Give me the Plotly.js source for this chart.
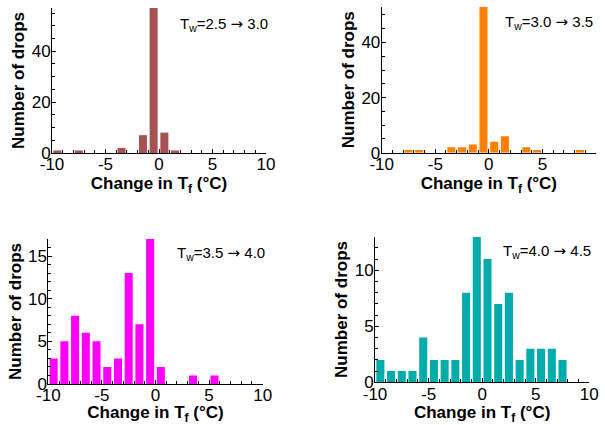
<!DOCTYPE html>
<html><head><meta charset="utf-8">
<script src="https://cdn.plot.ly/plotly-3.0.1.min.js"></script>
<style>html,body{margin:0;padding:0;background:#fff}#chart{width:605px;height:425px}</style>
</head><body><div id="chart"></div>
<script>
// Bin centers (°C change in Tf)
const binCenters = [-9.5,-8.5,-7.5,-6.5,-5.5,-4.5,-3.5,-2.5,-1.5,-0.5,0.5,1.5,2.5,3.5,4.5,5.5,6.5,7.5,8.5,9.5];
// Counts per panel
const counts25to30 = [1,0,1,0,0,0,2,0,7,57,8,1,0,0,0,0,0,0,0,0];
const counts30to35 = [0,0,1,1,0,0,2,2,3,53,4,6,0,2,1,0,0,0,1,0];
const counts35to40 = [3,5,8,6,5,2,3,13,7,17,2,0,0,1,0,1,0,0,0,0];
const counts40to45 = [2,1,1,1,4,2,2,2,8,13,11,7,8,2,3,3,3,2,0,0];
const arrow = '<span style="font-family:\'DejaVu Sans\'">\u2192</span>';
const panelLabels = ['T<sub>w</sub>=2.5 '+arrow+' 3.0','T<sub>w</sub>=3.0 '+arrow+' 3.5','T<sub>w</sub>=3.5 '+arrow+' 4.0','T<sub>w</sub>=4.0 '+arrow+' 4.5'];
const xTickVals = [-10,-5,0,5,10];
const xTickText = ['-10','-5','0','5','10'];

const series = [counts25to30, counts30to35, counts35to40, counts40to45];
const colors = ['#A65252','#FF8000','#FF00FF','#00ABAB'];
const yRanges = [[0,57],[0,53],[0,17],[0,13]];
const yMajor = [20,20,5,5];
const yMinor = [5,5,1,1];
const W=605,H=425;
const boxes = [ // px: x0,x1,ytop,ybottom
  [52,266,8,153],[381.7,596,6.7,152.7],[48.3,262.7,239,384],[375,589.3,236.7,382.3]
];
const labelPos = [[270,24],[595,23],[267,253],[593,252]];
const font = {family:'"Liberation Sans", Arial, sans-serif', color:'#000'};

const data = series.map((s,i)=>({
  type:'bar', x:binCenters, y:s, width:0.75,
  marker:{color:colors[i]}, xaxis:'x'+(i?i+1:''), yaxis:'y'+(i?i+1:''),
  hoverinfo:'skip'
}));

const layout = {
  width:W, height:H, margin:{l:0,r:0,t:0,b:0}, showlegend:false,
  paper_bgcolor:'#fff', plot_bgcolor:'#fff', font:Object.assign({size:17},font),
  annotations: panelLabels.map((t,i)=>({
    text:t, xref:'paper', yref:'paper', x:labelPos[i][0]/W, y:1-labelPos[i][1]/H,
    xanchor:'right', yanchor:'middle', showarrow:false, font:Object.assign({size:15},font)
  }))
};
boxes.forEach((b,i)=>{
  const k = i?i+1:'';
  layout['xaxis'+k] = {
    domain:[b[0]/W,b[1]/W], anchor:'y'+k, range:[-10,10],
    tickmode:'array', tickvals:xTickVals, ticktext:xTickText,
    ticks:'inside', ticklen:4, tickcolor:'#000', showline:true, linecolor:'#000', linewidth:1,
    showgrid:false, zeroline:false, tickfont:Object.assign({size:17},font), ticklabelstandoff:-4,
    minor:{dtick:1, tick0:0, ticks:'inside', ticklen:3, tickcolor:'#000', showgrid:false},
    title:{text:'<b>Change in T<sub>f</sub> (°C)</b>', font:Object.assign({size:17},font), standoff:1}
  };
  layout['yaxis'+k] = {
    domain:[1-b[3]/H,1-b[2]/H], anchor:'x'+k, range:yRanges[i],
    dtick:yMajor[i], tick0:0, ticks:'inside', ticklen:4, tickcolor:'#000',
    showline:true, linecolor:'#000', linewidth:1, showgrid:false, zeroline:false,
    tickfont:Object.assign({size:17},font), ticklabelstandoff:-3,
    minor:{dtick:yMinor[i], tick0:0, ticks:'inside', ticklen:3, tickcolor:'#000', showgrid:false},
    title:{text:'<b>Number of drops</b>', font:Object.assign({size:17},font), standoff:2}
  };
});
Plotly.newPlot('chart', data, layout, {staticPlot:true});
</script></body></html>
